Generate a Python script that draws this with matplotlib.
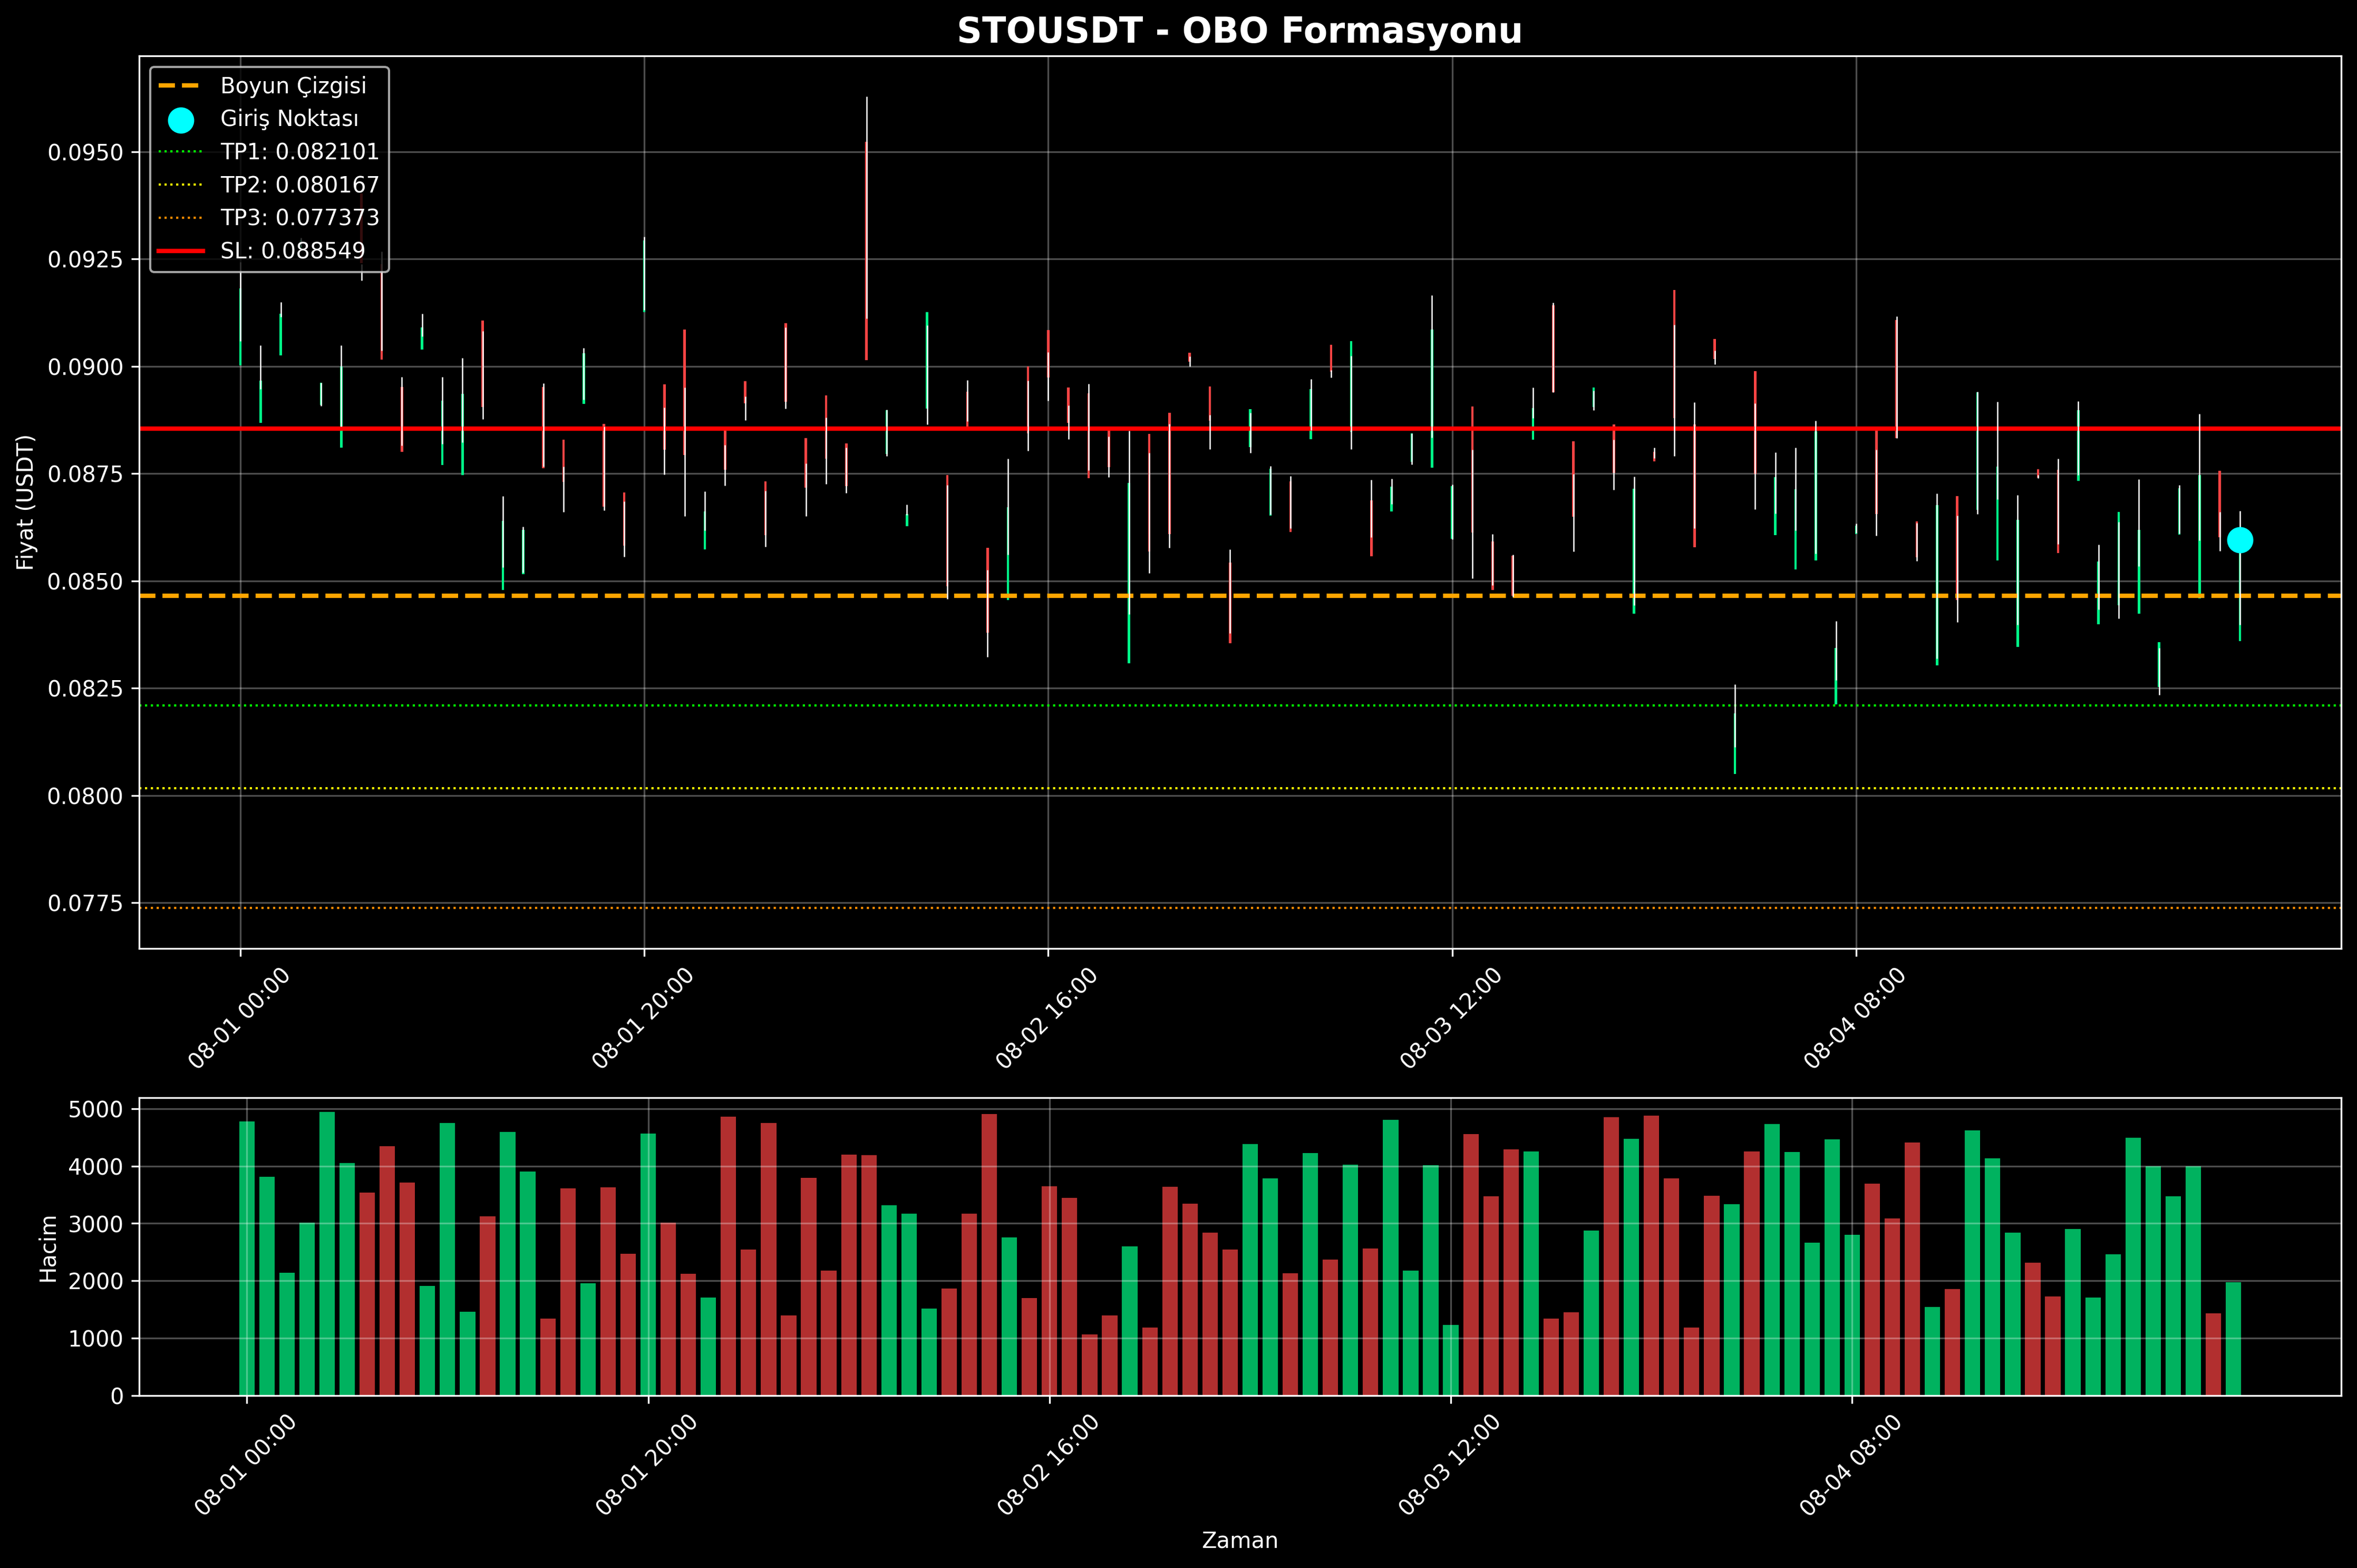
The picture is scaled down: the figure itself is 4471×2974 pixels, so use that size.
import numpy as np
import pandas as pd
import matplotlib
matplotlib.use('Agg')
import matplotlib.pyplot as plt
import matplotlib.dates as mdates

plt.style.use('dark_background')

# saatlik mumlar
zaman = pd.date_range('2024-08-01 00:00', periods=100, freq='h')

acilis = [0.09002, 0.08868, 0.09026, 0.09276, 0.08910, 0.08811, 0.09403, 0.09238, 0.08952, 0.09039,
          0.08770, 0.08747, 0.09106, 0.08479, 0.08516, 0.08952, 0.08829, 0.08912, 0.08866, 0.08706,
          0.09126, 0.08958, 0.09086, 0.08573, 0.08850, 0.08965, 0.08732, 0.09100, 0.08833, 0.08932,
          0.08820, 0.09523, 0.08796, 0.08627, 0.08901, 0.08746, 0.08941, 0.08577, 0.08455, 0.09000,
          0.09084, 0.08950, 0.08937, 0.08855, 0.08308, 0.08842, 0.08891, 0.09032, 0.08953, 0.08543,
          0.08812, 0.08652, 0.08732, 0.08830, 0.09050, 0.08847, 0.08687, 0.08662, 0.08777, 0.08764,
          0.08598, 0.08906, 0.08592, 0.08558, 0.08829, 0.09142, 0.08825, 0.08905, 0.08864, 0.08423,
          0.08801, 0.09178, 0.08864, 0.09064, 0.08050, 0.08988, 0.08606, 0.08527, 0.08548, 0.08212,
          0.08609, 0.08853, 0.09108, 0.08639, 0.08303, 0.08697, 0.08665, 0.08547, 0.08346, 0.08760,
          0.08759, 0.08733, 0.08399, 0.08443, 0.08423, 0.08252, 0.08608, 0.08459, 0.08756, 0.08359]

yuksek = [0.09243, 0.09049, 0.09150, 0.09300, 0.08961, 0.09049, 0.09238, 0.09267, 0.08975, 0.09123,
          0.08975, 0.09019, 0.09082, 0.08697, 0.08626, 0.08960, 0.08766, 0.09043, 0.08860, 0.08685,
          0.09302, 0.08904, 0.08951, 0.08708, 0.08817, 0.08929, 0.08710, 0.09091, 0.08773, 0.08881,
          0.08811, 0.09629, 0.08899, 0.08678, 0.09095, 0.08723, 0.08968, 0.08525, 0.08784, 0.08967,
          0.09033, 0.08909, 0.08959, 0.08836, 0.08850, 0.08798, 0.08866, 0.09023, 0.08886, 0.08573,
          0.08891, 0.08767, 0.08744, 0.08970, 0.08991, 0.09024, 0.08736, 0.08738, 0.08844, 0.09166,
          0.08724, 0.08806, 0.08609, 0.08561, 0.08950, 0.09148, 0.08749, 0.08943, 0.08829, 0.08743,
          0.08810, 0.09097, 0.08916, 0.09036, 0.08259, 0.08913, 0.08799, 0.08810, 0.08873, 0.08406,
          0.08633, 0.08806, 0.09116, 0.08635, 0.08704, 0.08652, 0.08941, 0.08917, 0.08700, 0.08746,
          0.08784, 0.08918, 0.08584, 0.08637, 0.08737, 0.08344, 0.08723, 0.08889, 0.08660, 0.08663]

dusuk = [0.09058, 0.08947, 0.09115, 0.09280, 0.08907, 0.08860, 0.09200, 0.09037, 0.08815, 0.09070,
         0.08819, 0.08823, 0.08877, 0.08531, 0.08519, 0.08766, 0.08661, 0.08922, 0.08664, 0.08556,
         0.09131, 0.08748, 0.08651, 0.08617, 0.08722, 0.08874, 0.08579, 0.08901, 0.08651, 0.08726,
         0.08705, 0.09111, 0.08791, 0.08653, 0.08865, 0.08458, 0.08872, 0.08323, 0.08561, 0.08803,
         0.08920, 0.08830, 0.08758, 0.08741, 0.08422, 0.08518, 0.08577, 0.09000, 0.08807, 0.08378,
         0.08798, 0.08654, 0.08622, 0.08851, 0.08974, 0.08807, 0.08601, 0.08679, 0.08771, 0.08834,
         0.08597, 0.08506, 0.08490, 0.08463, 0.08879, 0.08939, 0.08568, 0.08898, 0.08712, 0.08443,
         0.08786, 0.08791, 0.08622, 0.09004, 0.08113, 0.08667, 0.08657, 0.08617, 0.08564, 0.08268,
         0.08611, 0.08605, 0.08832, 0.08546, 0.08319, 0.08404, 0.08656, 0.08690, 0.08397, 0.08739,
         0.08585, 0.08746, 0.08433, 0.08412, 0.08534, 0.08234, 0.08610, 0.08594, 0.08570, 0.08397]

kapanis = [0.09181, 0.08967, 0.09122, 0.09295, 0.08961, 0.09000, 0.09240, 0.09015, 0.08801, 0.09090,
           0.08920, 0.08936, 0.08905, 0.08640, 0.08619, 0.08763, 0.08730, 0.09030, 0.08673, 0.08582,
           0.09293, 0.08806, 0.08793, 0.08662, 0.08759, 0.08914, 0.08606, 0.08917, 0.08717, 0.08784,
           0.08721, 0.09014, 0.08898, 0.08655, 0.09126, 0.08487, 0.08850, 0.08379, 0.08671, 0.08843,
           0.08974, 0.08868, 0.08739, 0.08765, 0.08728, 0.08568, 0.08609, 0.09011, 0.08873, 0.08355,
           0.08900, 0.08761, 0.08614, 0.08947, 0.08987, 0.09058, 0.08557, 0.08720, 0.08843, 0.09086,
           0.08721, 0.08613, 0.08479, 0.08465, 0.08902, 0.08940, 0.08650, 0.08950, 0.08751, 0.08714,
           0.08779, 0.08879, 0.08578, 0.09017, 0.08191, 0.08749, 0.08742, 0.08713, 0.08849, 0.08344,
           0.08628, 0.08656, 0.08833, 0.08555, 0.08677, 0.08455, 0.08940, 0.08766, 0.08642, 0.08740,
           0.08565, 0.08898, 0.08545, 0.08660, 0.08619, 0.08357, 0.08716, 0.08746, 0.08601, 0.08596]

hacim = [4781, 3813, 2138, 3012, 4945, 4053, 3536, 4348, 3711, 1905,
         4752, 1457, 3121, 4596, 3904, 1336, 3609, 1952, 3627, 2469,
         4567, 3012, 2119, 1704, 4862, 2542, 4752, 1391, 3795, 2174,
         4199, 4192, 3314, 3168, 1511, 1861, 3168, 4909, 2753, 1693,
         3645, 3445, 1060, 1391, 2596, 1180, 3638, 3343, 2837, 2542,
         4385, 3784, 2127, 4228, 2367, 4024, 2560, 4807, 2174, 4017,
         1224, 4559, 3471, 4293, 4253, 1336, 1446, 2873, 4854, 4476,
         4880, 3784, 1180, 3481, 3332, 4253, 4734, 4246, 2662, 4468,
         2800, 3693, 3084, 4410, 1537, 1850, 4625, 4137, 2837, 2312,
         1722, 2902, 1704, 2458, 4494, 3998, 3471, 3998, 1428, 1970]

boyun = 0.08465
giris = 0.08596
tp1 = 0.082101
tp2 = 0.080167
tp3 = 0.077373
sl = 0.088549

acilis = np.array(acilis)
kapanis = np.array(kapanis)
renk = np.where(kapanis >= acilis, '#00ff88', '#ff4444')

fig, (ax1, ax2) = plt.subplots(2, 1, figsize=(15, 10), gridspec_kw={'height_ratios': [3, 1]})

# mumlar
ax1.bar(zaman, kapanis - acilis, bottom=acilis, width=0.005, color=renk, zorder=2)
ax1.vlines(zaman, dusuk, yuksek, color='white', linewidth=0.6, zorder=3)

ax1.axhline(boyun, color='orange', linestyle='--', linewidth=2, label='Boyun Çizgisi')
ax1.scatter(zaman[-1], giris, color='cyan', s=120, zorder=5, label='Giriş Noktası')
ax1.axhline(tp1, color='lime', linestyle=':', linewidth=1, label=f'TP1: {tp1:.6f}')
ax1.axhline(tp2, color='yellow', linestyle=':', linewidth=1, label=f'TP2: {tp2:.6f}')
ax1.axhline(tp3, color='darkorange', linestyle=':', linewidth=1, label=f'TP3: {tp3:.6f}')
ax1.axhline(sl, color='red', linestyle='-', linewidth=2, label=f'SL: {sl:.6f}')

ax1.set_title('STOUSDT - OBO Formasyonu', fontsize=16, fontweight='bold')
ax1.set_ylabel('Fiyat (USDT)')
ax1.legend(loc='upper left')
ax1.grid(True, alpha=0.3)

# hacim
ax2.bar(zaman, hacim, width=0.032, color=renk, alpha=0.7)
ax2.set_ylabel('Hacim')
ax2.set_xlabel('Zaman')
ax2.grid(True, alpha=0.3)

for ax in (ax1, ax2):
    ax.set_xticks(zaman[::20])
    ax.xaxis.set_major_formatter(mdates.DateFormatter('%m-%d %H:%M'))
    plt.setp(ax.get_xticklabels(), rotation=45)

plt.tight_layout()
plt.savefig('out.png', dpi=300, bbox_inches='tight')
